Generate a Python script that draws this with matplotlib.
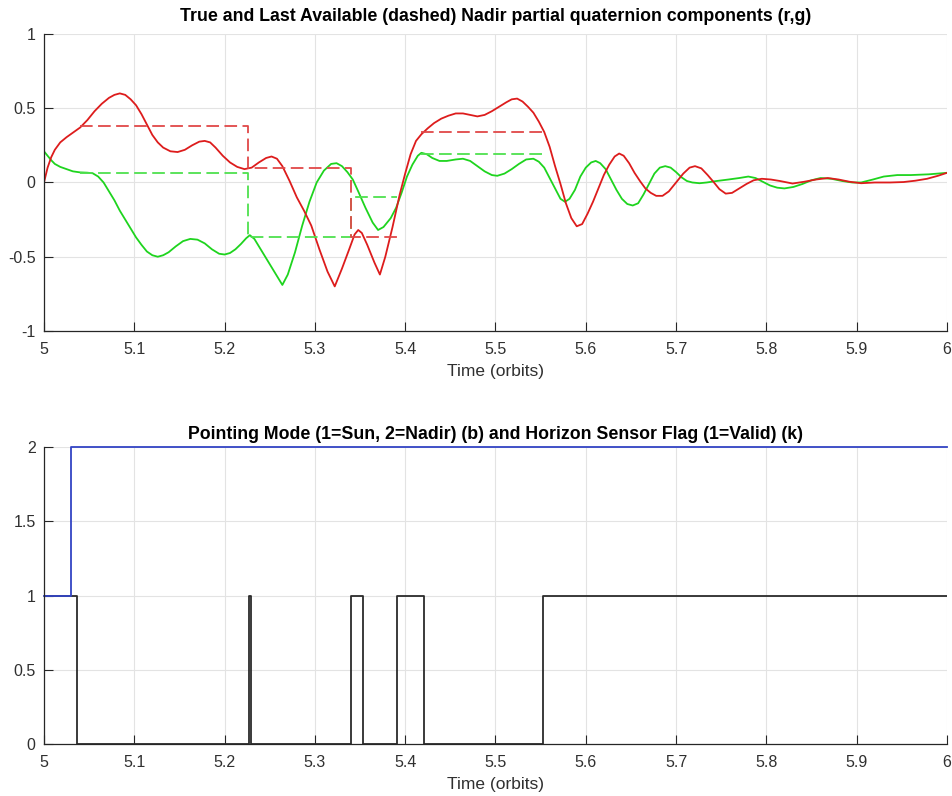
import numpy as np
import matplotlib.pyplot as plt
from matplotlib.ticker import FuncFormatter

# True nadir partial quaternion component r (time in orbits, value)
red_true = [
    (5.000, 0.00), (5.004, 0.10), (5.008, 0.17), (5.012, 0.22), (5.018, 0.27),
    (5.025, 0.305), (5.032, 0.335), (5.040, 0.37), (5.048, 0.42), (5.056, 0.48),
    (5.064, 0.53), (5.072, 0.57), (5.078, 0.59), (5.084, 0.60), (5.090, 0.59),
    (5.096, 0.56), (5.102, 0.52), (5.108, 0.46), (5.114, 0.39), (5.120, 0.32),
    (5.126, 0.27), (5.132, 0.235), (5.140, 0.21), (5.148, 0.205), (5.156, 0.22),
    (5.164, 0.25), (5.172, 0.275), (5.178, 0.28), (5.184, 0.27), (5.190, 0.235),
    (5.198, 0.18), (5.206, 0.135), (5.214, 0.105), (5.222, 0.09), (5.230, 0.10),
    (5.238, 0.135), (5.246, 0.165), (5.252, 0.175), (5.258, 0.16), (5.264, 0.11),
    (5.272, 0.01), (5.280, -0.10), (5.288, -0.19), (5.296, -0.29), (5.305, -0.45),
    (5.314, -0.60), (5.322, -0.70), (5.330, -0.58), (5.338, -0.45), (5.344, -0.35),
    (5.348, -0.32), (5.352, -0.34), (5.358, -0.42), (5.366, -0.54), (5.372, -0.62),
    (5.378, -0.50), (5.386, -0.30), (5.394, -0.08), (5.400, 0.06), (5.406, 0.19),
    (5.412, 0.28), (5.418, 0.325), (5.425, 0.365), (5.432, 0.40), (5.440, 0.43),
    (5.448, 0.45), (5.456, 0.465), (5.464, 0.465), (5.472, 0.455), (5.480, 0.445),
    (5.488, 0.455), (5.496, 0.48), (5.504, 0.51), (5.512, 0.54), (5.518, 0.56),
    (5.524, 0.565), (5.530, 0.545), (5.536, 0.51), (5.542, 0.47), (5.548, 0.41),
    (5.554, 0.34), (5.560, 0.24), (5.566, 0.11), (5.572, -0.01), (5.578, -0.14),
    (5.584, -0.24), (5.590, -0.295), (5.596, -0.28), (5.602, -0.21), (5.608, -0.13),
    (5.614, -0.04), (5.620, 0.05), (5.626, 0.12), (5.632, 0.175), (5.637, 0.195),
    (5.642, 0.18), (5.648, 0.13), (5.654, 0.065), (5.660, 0.01), (5.666, -0.04),
    (5.672, -0.07), (5.678, -0.09), (5.685, -0.09), (5.692, -0.06), (5.700, 0.00),
    (5.708, 0.06), (5.715, 0.10), (5.721, 0.11), (5.728, 0.095), (5.735, 0.05),
    (5.742, 0.00), (5.748, -0.045), (5.755, -0.075), (5.762, -0.07), (5.770, -0.04),
    (5.778, -0.01), (5.786, 0.015), (5.795, 0.025), (5.805, 0.02), (5.815, 0.01),
    (5.829, -0.007), (5.842, 0.005), (5.855, 0.02), (5.868, 0.03), (5.880, 0.02),
    (5.892, 0.005), (5.905, -0.005), (5.920, 0.00), (5.937, 0.00), (5.952, 0.003),
    (5.965, 0.012), (5.978, 0.025), (5.990, 0.045), (6.000, 0.065),
]

# True nadir partial quaternion component g
green_true = [
    (5.000, 0.21), (5.004, 0.18), (5.008, 0.15), (5.012, 0.125), (5.018, 0.105),
    (5.025, 0.09), (5.032, 0.075), (5.040, 0.068), (5.048, 0.066), (5.054, 0.062),
    (5.060, 0.04), (5.066, 0.00), (5.072, -0.06), (5.078, -0.12), (5.084, -0.19),
    (5.090, -0.25), (5.096, -0.31), (5.102, -0.37), (5.108, -0.42), (5.114, -0.465),
    (5.120, -0.49), (5.126, -0.50), (5.132, -0.49), (5.138, -0.47), (5.146, -0.43),
    (5.154, -0.395), (5.162, -0.38), (5.170, -0.385), (5.178, -0.41), (5.186, -0.45),
    (5.194, -0.48), (5.200, -0.485), (5.206, -0.475), (5.212, -0.45), (5.218, -0.415),
    (5.224, -0.375), (5.228, -0.355), (5.233, -0.38), (5.240, -0.45), (5.248, -0.53),
    (5.256, -0.61), (5.264, -0.69), (5.270, -0.62), (5.278, -0.47), (5.286, -0.29),
    (5.294, -0.13), (5.302, 0.00), (5.310, 0.08), (5.318, 0.125), (5.324, 0.13),
    (5.330, 0.11), (5.336, 0.07), (5.342, 0.02), (5.348, -0.06), (5.356, -0.17),
    (5.364, -0.27), (5.370, -0.32), (5.376, -0.30), (5.384, -0.24), (5.390, -0.17),
    (5.396, -0.07), (5.402, 0.04), (5.408, 0.12), (5.414, 0.18), (5.418, 0.20),
    (5.424, 0.19), (5.430, 0.165), (5.438, 0.145), (5.446, 0.145), (5.456, 0.155),
    (5.464, 0.16), (5.472, 0.145), (5.480, 0.11), (5.488, 0.075), (5.496, 0.05),
    (5.502, 0.045), (5.510, 0.06), (5.518, 0.09), (5.526, 0.125), (5.534, 0.155),
    (5.542, 0.16), (5.548, 0.14), (5.554, 0.10), (5.560, 0.03), (5.566, -0.04),
    (5.572, -0.11), (5.577, -0.13), (5.582, -0.11), (5.588, -0.05), (5.594, 0.04),
    (5.600, 0.10), (5.606, 0.135), (5.611, 0.145), (5.616, 0.13), (5.622, 0.09),
    (5.628, 0.02), (5.634, -0.05), (5.640, -0.11), (5.646, -0.145), (5.652, -0.155),
    (5.658, -0.14), (5.664, -0.08), (5.670, -0.01), (5.676, 0.06), (5.682, 0.10),
    (5.688, 0.11), (5.694, 0.10), (5.700, 0.07), (5.706, 0.035), (5.712, 0.01),
    (5.718, 0.00), (5.726, -0.005), (5.734, 0.00), (5.745, 0.01), (5.758, 0.02),
    (5.770, 0.03), (5.780, 0.04), (5.788, 0.03), (5.796, 0.005), (5.804, -0.02),
    (5.812, -0.035), (5.820, -0.04), (5.830, -0.03), (5.840, -0.01), (5.850, 0.015),
    (5.860, 0.03), (5.872, 0.025), (5.884, 0.01), (5.895, 0.00), (5.905, 0.00),
    (5.918, 0.02), (5.930, 0.04), (5.945, 0.05), (5.960, 0.05), (5.980, 0.055),
    (6.000, 0.065),
]

# Last available values (dashed), held while the horizon sensor is invalid
t_last1 = [5.04, 5.226, 5.34, 5.391]
r_last1 = [0.38, 0.10, -0.365, -0.365]
g_last1 = [0.065, -0.365, -0.10, -0.10]
t_last2 = [5.418, 5.553]
r_last2 = [0.34, 0.34]
g_last2 = [0.195, 0.195]

# Pointing mode and horizon sensor flag
mode_t = [5.0, 5.03, 6.0]
mode_v = [1, 2, 2]
flag_t = [5.0, 5.0365, 5.2265, 5.2295, 5.3405, 5.3535, 5.3905, 5.4205, 5.553, 6.0]
flag_v = [1, 0, 1, 0, 1, 0, 1, 0, 1, 1]

xticks = [5.0, 5.1, 5.2, 5.3, 5.4, 5.5, 5.6, 5.7, 5.8, 5.9, 6.0]

plt.rcParams['font.family'] = ['Liberation Sans', 'DejaVu Sans']

t_r, q_r = zip(*red_true)
t_g, q_g = zip(*green_true)

fig = plt.figure(figsize=(9.52, 7.96), dpi=100)
ax1 = fig.add_axes([0.0462, 0.5842, 0.9485, 0.3731])
ax2 = fig.add_axes([0.0462, 0.0653, 0.9485, 0.3731])

fmt = FuncFormatter(lambda v, p: ('%g' % v))


def style_axes(ax, ylim, yticks):
    ax.set_xlim(5, 6)
    ax.set_ylim(*ylim)
    ax.set_xticks(xticks)
    ax.set_yticks(yticks)
    ax.xaxis.set_major_formatter(fmt)
    ax.yaxis.set_major_formatter(fmt)
    ax.grid(True, color='#e3e3e3', linewidth=0.8)
    ax.set_axisbelow(True)
    for s in ['top', 'right']:
        ax.spines[s].set_visible(False)
    for s in ['left', 'bottom']:
        ax.spines[s].set_color('#262626')
        ax.spines[s].set_linewidth(0.9)
    ax.tick_params(direction='in', length=6.5, width=0.8, color='#262626',
                   labelcolor='#303030', labelsize=11.5, pad=6)
    ax.tick_params(axis='x', pad=8)
    ax.set_xlabel('Time (orbits)', fontsize=12.5, color='#303030', labelpad=5)


# Top plot
ax1.plot(t_g, q_g, color='#1ed41e', lw=1.3)
ax1.plot(t_r, q_r, color='#dd1c1c', lw=1.3)
for tt, gg in [(t_last1, g_last1), (t_last2, g_last2)]:
    ax1.plot(tt, gg, color='#4ee04e', lw=1.3, drawstyle='steps-post', dashes=(7, 3))
for tt, rr in [(t_last1, r_last1), (t_last2, r_last2)]:
    ax1.plot(tt, rr, color='#e04848', lw=1.3, drawstyle='steps-post', dashes=(7, 3))
style_axes(ax1, (-1, 1), [-1, -0.5, 0, 0.5, 1])
ax1.set_title('True and Last Available (dashed) Nadir partial quaternion components (r,g)',
              fontsize=12.8, fontweight='bold', pad=9)

# Bottom plot
ax2.plot(flag_t, flag_v, color='#2b2b2b', lw=1.3, drawstyle='steps-post')
ax2.plot(mode_t, mode_v, color='#3344c4', lw=1.3, drawstyle='steps-post', clip_on=False)
style_axes(ax2, (0, 2), [0, 0.5, 1, 1.5, 2])
ax2.set_title('Pointing Mode (1=Sun, 2=Nadir) (b) and Horizon Sensor Flag (1=Valid) (k)',
              fontsize=12.8, fontweight='bold', pad=6)

fig.savefig('out.png', dpi=100)
